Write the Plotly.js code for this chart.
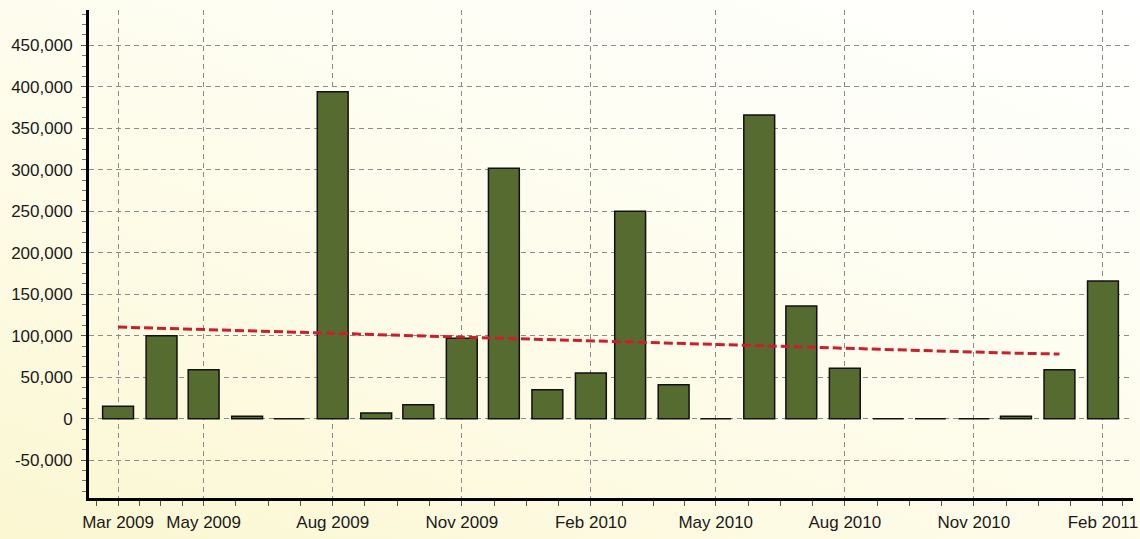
<!DOCTYPE html>
<html>
<head>
<meta charset="utf-8">
<script src="https://cdn.plot.ly/plotly-3.0.1.min.js"></script>
<style>
  html, body { margin: 0; padding: 0; }
  body {
    width: 1140px; height: 539px; overflow: hidden;
    background: linear-gradient(20deg, #fbf7d2 0%, #fdfbe5 35%, #fefef3 65%, #ffffff 100%);
  }
  #chart { width: 1140px; height: 539px; }
</style>
</head>
<body>
<div id="chart"></div>
<script>
// ---- data ----
const months = [
  "2009-03-01","2009-04-01","2009-05-01","2009-06-01","2009-07-01","2009-08-01",
  "2009-09-01","2009-10-01","2009-11-01","2009-12-01","2010-01-01","2010-02-01",
  "2010-03-01","2010-04-01","2010-05-01","2010-06-01","2010-07-01","2010-08-01",
  "2010-09-01","2010-10-01","2010-11-01","2010-12-01","2011-01-01","2011-02-01"
];
const barValues = [
  15000, 100000, 59000, 3000, 0, 394000,
  7000, 17000, 97000, 302000, 35000, 55000,
  250000, 41000, 0, 366000, 136000, 61000,
  0, 0, 0, 3000, 59000, 166000
];
const trendMonths = months.slice(0, 23);
const trendValues = [
  110500, 109000, 107500, 106000, 104500, 103000,
  101500, 99500, 98000, 96500, 95000, 93500,
  92000, 91000, 89500, 88000, 86000, 84500,
  83000, 82000, 80500, 79000, 78000
];
const tickDates = ["2009-03-01","2009-05-01","2009-08-01","2009-11-01","2010-02-01",
                   "2010-05-01","2010-08-01","2010-11-01","2011-02-01"];
const tickLabels = ["Mar 2009","May 2009","Aug 2009","Nov 2009","Feb 2010",
                    "May 2010","Aug 2010","Nov 2010","Feb 2011"];
const yTicks = [-50000, 0, 50000, 100000, 150000, 200000, 250000, 300000, 350000, 400000, 450000];
const yTickLabels = ["-50,000","0","50,000","100,000","150,000","200,000","250,000","300,000","350,000","400,000","450,000"];

// minor ticks: quarter steps between labelled ticks (axis decoration)
const DAY = 86400000;
const tms = tickDates.map(d => new Date(d + "T00:00:00Z").getTime());
const minorVals = [];
minorVals.push(new Date(tms[0] - (tms[1] - tms[0]) / 4).toISOString());
for (let i = 0; i < tms.length - 1; i++) {
  const step = (tms[i + 1] - tms[i]) / 4;
  for (let k = 1; k < 4; k++) minorVals.push(new Date(tms[i] + k * step).toISOString());
}
minorVals.push(new Date(tms[tms.length - 1] + 14 * DAY).toISOString());

const font = { family: "Liberation Sans, Arial, sans-serif", size: 17, color: "#1a1a1a" };

const traces = [
  {
    type: "bar",
    x: months,
    y: barValues,
    width: 22 * DAY,
    marker: { color: "#566b2f", line: { color: "#111111", width: 1.5 } },
    hoverinfo: "x+y",
    showlegend: false
  },
  {
    type: "scatter",
    mode: "lines",
    x: trendMonths,
    y: trendValues,
    line: { color: "#cc1f2b", width: 3, dash: "9px,4px" },
    hoverinfo: "skip",
    showlegend: false
  }
];

const layout = {
  width: 1140,
  height: 539,
  margin: { l: 89, r: 7, t: 10, b: 41 },
  paper_bgcolor: "rgba(0,0,0,0)",
  plot_bgcolor: "rgba(0,0,0,0)",
  font: font,
  showlegend: false,
  bargap: 0,
  xaxis: {
    type: "date",
    range: ["2009-02-08 07:00", "2011-02-22 10:00"],
    tickmode: "array",
    tickvals: tickDates,
    ticktext: tickLabels,
    ticks: "outside",
    ticklen: 5,
    tickwidth: 1,
    tickcolor: "#555555",
    ticklabelstandoff: 2,
    showgrid: true,
    gridcolor: "#8c8c8c",
    gridwidth: 1,
    griddash: "5px,4px",
    showline: true,
    linecolor: "#000000",
    linewidth: 3,
    zeroline: false,
    tickfont: font,
    minor: {
      tickmode: "array",
      tickvals: minorVals,
      ticks: "outside",
      ticklen: 5,
      tickwidth: 1,
      tickcolor: "#555555",
      showgrid: false
    },
    fixedrange: true
  },
  yaxis: {
    range: [-95500, 492600],
    tickmode: "array",
    tickvals: yTicks,
    ticktext: yTickLabels,
    ticks: "outside",
    ticklen: 5,
    tickwidth: 1,
    tickcolor: "#555555",
    ticklabelstandoff: 5,
    showgrid: true,
    gridcolor: "#8c8c8c",
    gridwidth: 1,
    griddash: "5px,4px",
    showline: true,
    linecolor: "#000000",
    linewidth: 3,
    zeroline: false,
    tickfont: font,
    minor: {
      dtick: 12500,
      ticks: "outside",
      ticklen: 4,
      tickwidth: 1,
      tickcolor: "#777777",
      showgrid: false
    },
    fixedrange: true
  }
};

Plotly.newPlot("chart", traces, layout, { displayModeBar: false, staticPlot: true });
</script>
</body>
</html>
